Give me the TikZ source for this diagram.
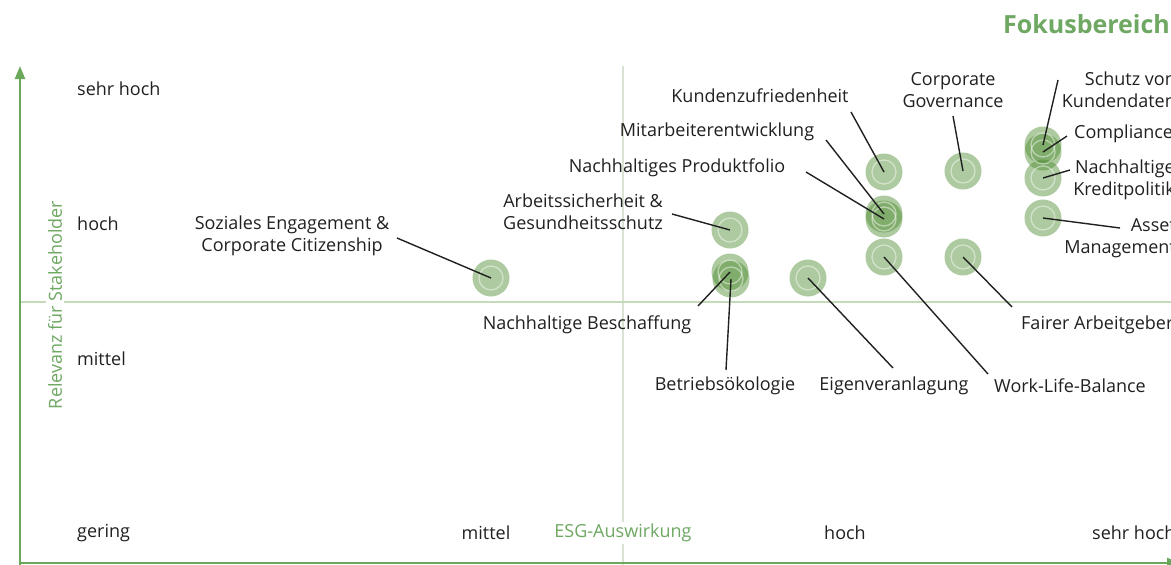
\documentclass[tikz,border=0pt]{standalone}
\usepackage{fontspec}
\setmainfont{Open Sans}
\usetikzlibrary{arrows.meta}
\definecolor{axisgreen}{RGB}{108,168,92}
\definecolor{labelgreen}{RGB}{110,168,98}
\definecolor{dotgreen}{RGB}{74,138,44}
\definecolor{gridv}{RGB}{218,226,212}
\definecolor{gridh}{RGB}{196,218,186}
\definecolor{ink}{RGB}{32,32,32}
\tikzset{
  txt/.style={font=\fontsize{18}{22}\selectfont, text=ink, inner sep=0pt, align=center},
  axtxt/.style={font=\fontsize{18}{22}\selectfont, text=labelgreen, inner sep=2pt, fill=white},
  dot/.style={circle, minimum size=37pt, inner sep=0pt, fill=dotgreen, fill opacity=0.45, draw=none},
  ring/.style={draw=white, draw opacity=0.45, line width=1.3pt},
  lead/.style={draw=ink, line width=1.4pt},
  axis/.style={draw=axisgreen, line width=2.4pt, -{Triangle[length=13pt,width=10pt]}}
}
\begin{document}
\begin{tikzpicture}[x=1pt, y=-1pt]
\useasboundingbox (0,0) rectangle (1171,565);
\clip (0,0) rectangle (1171,565);

% grid lines
\draw[gridv, line width=1.3pt] (623,66) -- (623,565);
\draw[gridh, line width=1.3pt] (20,302) -- (1171,302);

% axes
\coordinate (ytop) at (20,66);
\coordinate (xend) at (1180,563);
\draw[axis] (20,565) -- (ytop);
\draw[axis] (19,563) -- (xend);

% axis captions
\node[axtxt, rotate=90] (ycap) at (55,305) {Relevanz für Stakeholder};
\node[axtxt] (xcap) at (623,533) {ESG-Auswirkung};
\node[font=\fontsize{25}{30}\selectfont\bfseries, text=labelgreen, anchor=west, inner sep=0pt] (title) at (1003,24) {Fokusbereich};

% scale labels
\node[txt, anchor=west] (y4) at (77,89) {sehr hoch};
\node[txt, anchor=west] (y3) at (77,224) {hoch};
\node[txt, anchor=west] (y2) at (77,359) {mittel};
\node[txt, anchor=west] (y1) at (77,533) {gering};
\node[txt] (x2) at (486,533) {mittel};
\node[txt] (x3) at (845,533) {hoch};
\node[txt, anchor=west] (x4) at (1092,533) {sehr hoch};

% topic dots
\node[dot] (soz) at (491,278) {};
\node[dot] (arb) at (730,230) {};
\node[dot] (besch) at (730,272) {};
\node[dot] (betr) at (731,279) {};
\node[dot] (eigen) at (808,278) {};
\node[dot] (kunz) at (884,172) {};
\node[dot] (mit) at (884,214) {};
\node[dot] (prod) at (884,219) {};
\node[dot] (wlb) at (884,257) {};
\node[dot] (gov) at (963,171) {};
\node[dot] (fair) at (963,257) {};
\node[dot] (schutz) at (1043,145) {};
\node[dot] (compl) at (1043,152) {};
\node[dot] (kredit) at (1043,178) {};
\node[dot] (asset) at (1043,218) {};
\foreach \d in {soz,arb,besch,betr,eigen,kunz,mit,prod,wlb,gov,fair,schutz,compl,kredit,asset}
  \draw[ring] (\d.center) circle (12pt);

% topic labels
\node[txt] (l-soz) at (292,236) {Soziales Engagement \&\\Corporate Citizenship};
\node[txt] (l-arb) at (583,212) {Arbeitssicherheit \&\\Gesundheitsschutz};
\node[txt] (l-besch) at (587,325) {Nachhaltige Beschaffung};
\node[txt] (l-betr) at (725,386) {Betriebsökologie};
\node[txt] (l-eigen) at (894,386) {Eigenveranlagung};
\node[txt] (l-wlb) at (1070,386) {Work-Life-Balance};
\node[txt, anchor=west] (l-fair) at (1021,325) {Fairer Arbeitgeber};
\node[txt] (l-kunz) at (760,96) {Kundenzufriedenheit};
\node[txt] (l-mit) at (717,132) {Mitarbeiterentwicklung};
\node[txt] (l-prod) at (677,168) {Nachhaltiges Produktfolio};
\node[txt] (l-gov) at (953,90) {Corporate\\Governance};
\node[txt, align=right, anchor=east] (l-schutz) at (1176,90) {Schutz von\\Kundendaten};
\node[txt, anchor=west] (l-compl) at (1074,134) {Compliance};
\node[txt, align=right, anchor=east] (l-kredit) at (1175,180) {Nachhaltige\\Kreditpolitik};
\node[txt, align=right, anchor=east] (l-asset) at (1176,238) {Asset\\Management};

% leader ends next to the labels
\coordinate (e-soz) at (397,238);
\coordinate (e-arb) at (672,214);
\coordinate (e-besch) at (698,306);
\coordinate (e-betr) at (726,370);
\coordinate (e-eigen) at (893,368);
\coordinate (e-wlb) at (988,374);
\coordinate (e-fair) at (1012,307);
\coordinate (e-kunz) at (851,112);
\coordinate (e-mit) at (826,140);
\coordinate (e-prod) at (806,172);
\coordinate (e-gov) at (953,116);
\coordinate (e-schutz) at (1058,80);
\coordinate (e-compl) at (1067,136);
\coordinate (e-kredit) at (1070,170);
\coordinate (e-asset) at (1120,228);

% leaders
\foreach \d in {soz,arb,besch,betr,eigen,wlb,fair,kunz,mit,prod,gov,schutz,compl,kredit,asset}
  \draw[lead] (e-\d) -- (\d.center);
\end{tikzpicture}
\end{document}
